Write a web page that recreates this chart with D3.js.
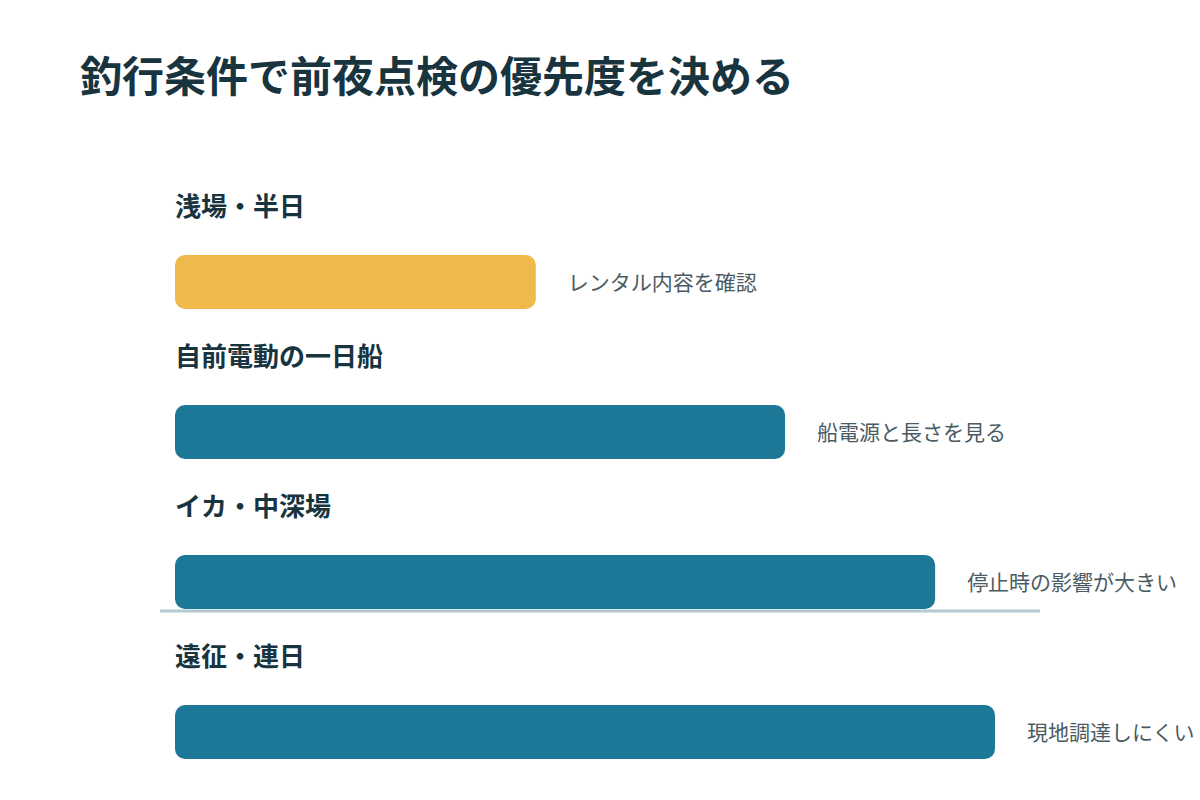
<!DOCTYPE html>
<html><head><meta charset="utf-8">
<script src="https://cdn.jsdelivr.net/npm/d3@7"></script>
<style>
html,body{margin:0;padding:0;background:#fff;}
svg{display:block;font-family:"Noto Sans CJK JP","Noto Sans",sans-serif;}
</style></head>
<body>
<svg id="chart" width="1200" height="800"></svg>
<script>
const title = "釣行条件で前夜点検の優先度を決める";
const categories = ["浅場・半日", "自前電動の一日船", "イカ・中深場", "遠征・連日"];
const values = [44, 74.4, 92.7, 100];
const notes = ["レンタル内容を確認", "船電源と長さを見る", "停止時の影響が大きい", "現地調達しにくい"];
const highlight = [true, false, false, false];
const xDomain = [0, 100];

const svg = d3.select("#chart");
svg.append("text").attr("x", 80).attr("y", 92)
  .attr("font-size", 42).attr("font-weight", 700).attr("fill", "#17343f")
  .text(title);

const x = d3.scaleLinear().domain(xDomain).range([175, 995]);
const y = d3.scaleBand().domain(categories).range([180, 780]).paddingInner(0).paddingOuter(0);
const barOffset = 75, barH = 54;

const g = svg.append("g");
const rows = g.selectAll("g.row").data(categories).join("g").attr("class", "row");

rows.append("text")
  .attr("x", 175).attr("y", d => y(d) + 36)
  .attr("font-size", 26).attr("font-weight", 700).attr("fill", "#17343f")
  .text(d => d);

rows.append("rect")
  .attr("x", x(0)).attr("y", d => y(d) + barOffset)
  .attr("width", (d, i) => x(values[i]) - x(0)).attr("height", barH)
  .attr("rx", 10).attr("ry", 10)
  .attr("fill", (d, i) => highlight[i] ? "#f0b94b" : "#1d7897");

rows.append("text")
  .attr("x", (d, i) => x(values[i]) + 32).attr("y", d => y(d) + barOffset + barH / 2 + 1)
  .attr("dy", "0.35em")
  .attr("font-size", 21).attr("fill", "#4b5b63")
  .text((d, i) => notes[i]);

const ruleY = y(categories[2]) + barOffset + barH + 2;
svg.append("line")
  .attr("x1", x(0) - 15).attr("x2", 1040)
  .attr("y1", ruleY).attr("y2", ruleY)
  .attr("stroke", "#b4cad2").attr("stroke-width", 3);
</script>
</body></html>
